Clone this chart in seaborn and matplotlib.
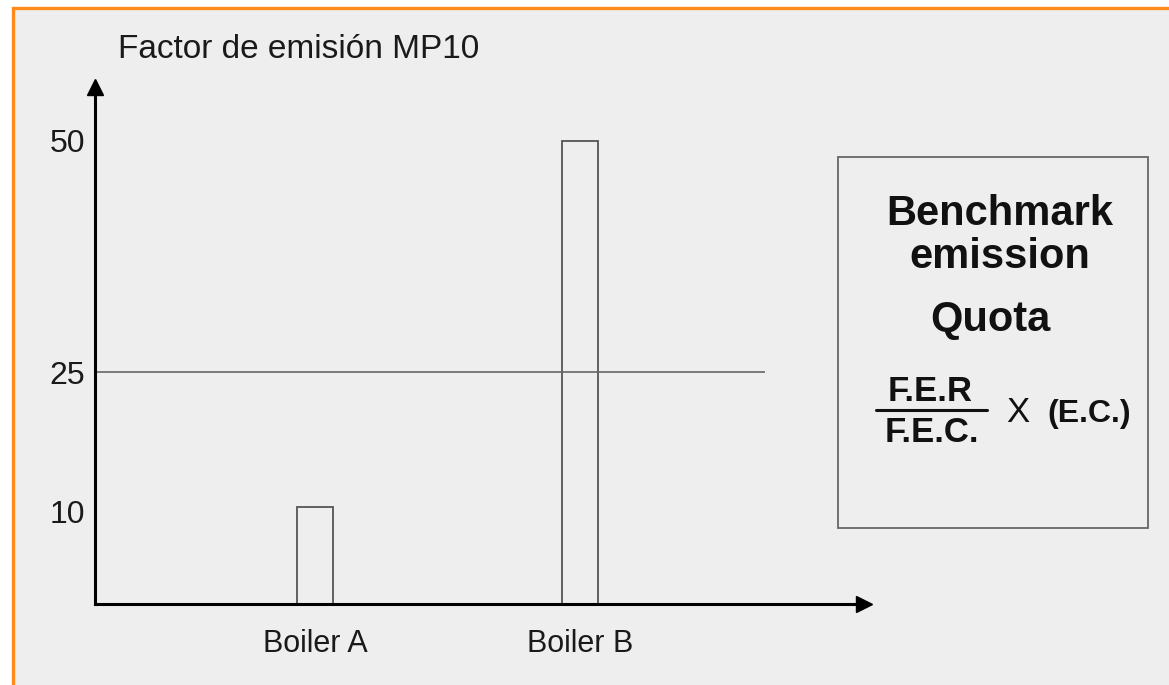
import matplotlib
matplotlib.use("Agg")
import matplotlib.pyplot as plt
import seaborn as sns
from matplotlib.patches import Rectangle
from matplotlib.lines import Line2D

# data
boilers = ["Boiler A", "Boiler B"]
factor = [10.5, 50]
benchmark = 25
yticks = [10, 25, 50]

W, H = 1169, 685

sns.set_style("white")
plt.rcParams['font.family'] = ['Liberation Sans', 'DejaVu Sans']

fig = plt.figure(figsize=(W / 100, H / 100), dpi=100, facecolor="white")


def fx(x):
    return x / W


def fy(y):
    return 1 - y / H


# orange frame with grey panel (kept behind everything)
fig.patches.append(Rectangle((fx(12.5), fy(H + 20)), 1.2, fy(7.5) - fy(H + 20),
                             transform=fig.transFigure, facecolor="#eeeeee",
                             edgecolor="#ff8a1c", linewidth=2.4, zorder=-10))

ax = fig.add_axes([fx(95), fy(604), fx(864) - fx(95), fy(87) - fy(604)])
ax.set_facecolor("none")
ax.set_zorder(2)

sns.barplot(x=boilers, y=factor, width=0.135, fill=False, color="#555555",
            linewidth=1.3, ax=ax)

ax.set_xlim(-0.83, 2.072)
ax.set_ylim(0, 55.8)
ax.hlines(benchmark, -0.83, 1.698, color="#666666", linewidth=1.2)

# axes with arrow heads
for s in ["top", "right"]:
    ax.spines[s].set_visible(False)
for s in ["left", "bottom"]:
    ax.spines[s].set_color("black")
    ax.spines[s].set_linewidth(2.2)
ax.plot([0], [1], marker="^", markersize=12, color="black", transform=ax.transAxes, clip_on=False)
ax.plot([1], [0], marker=">", markersize=12, color="black", transform=ax.transAxes, clip_on=False)

ax.set_yticks(yticks)
ax.set_yticklabels([str(t) for t in yticks], fontsize=23, color="#1a1a1a")
ax.tick_params(axis="y", length=0, pad=7)
ax.tick_params(axis="x", length=0, pad=18, labelsize=22, labelcolor="#1a1a1a")
ax.set_xlabel("")
ax.set_ylabel("")

fig.text(fx(118), fy(50), "Factor de emisión MP10", fontsize=24, color="#1a1a1a",
         ha="left", va="center")

# benchmark box
fig.patches.append(Rectangle((fx(838), fy(528)), fx(1148) - fx(838), fy(157) - fy(528),
                             transform=fig.transFigure, facecolor="none",
                             edgecolor="#666666", linewidth=1.3))
fig.text(fx(1000), fy(214), "Benchmark", fontsize=30, fontweight="bold", ha="center", va="center", color="#111111")
fig.text(fx(1000), fy(257), "emission", fontsize=30, fontweight="bold", ha="center", va="center", color="#111111")
fig.text(fx(990), fy(320), "Quota", fontsize=30, fontweight="bold", ha="center", va="center", color="#111111")

fig.text(fx(930), fy(392), "F.E.R", fontsize=25, fontweight="bold", ha="center", va="center", color="#111111")
fig.text(fx(932), fy(432), "F.E.C.", fontsize=25, fontweight="bold", ha="center", va="center", color="#111111")
fig.lines.append(Line2D([fx(876), fx(987)], [fy(410), fy(410)], transform=fig.transFigure,
                        color="#111111", linewidth=2.2))
fig.text(fx(1018), fy(412), "X", fontsize=25, ha="center", va="center", color="#111111")
fig.text(fx(1089), fy(414), "(E.C.)", fontsize=23, fontweight="bold", ha="center", va="center", color="#111111")

fig.savefig("out.png", dpi=100, facecolor="white")
